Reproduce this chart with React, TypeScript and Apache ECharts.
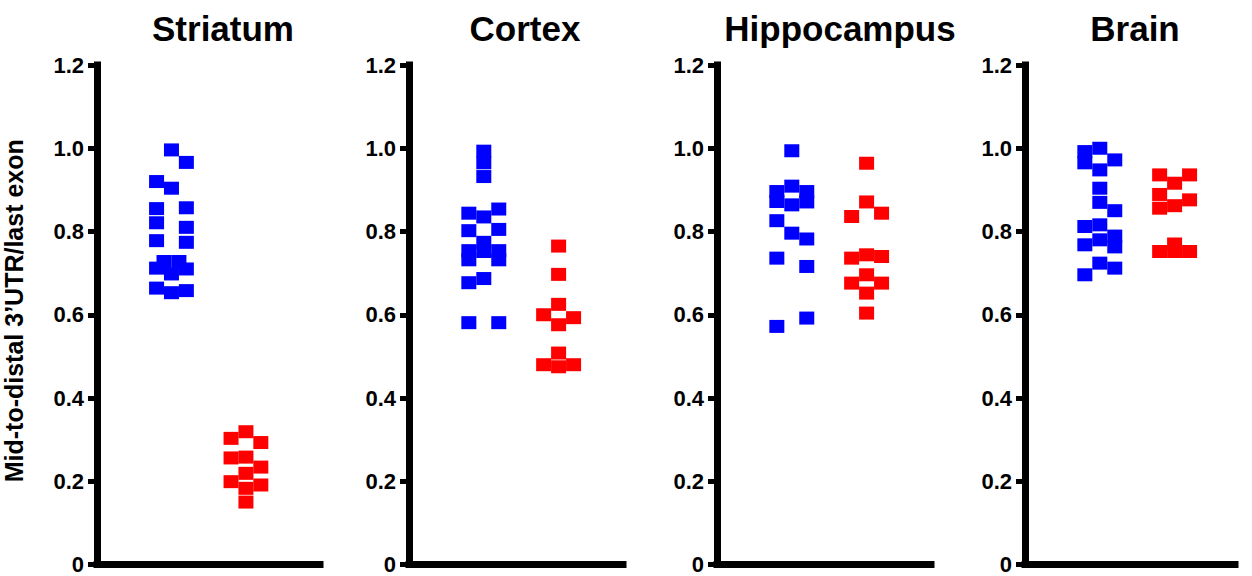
import React, { useEffect, useRef } from "react";
import * as echarts from "echarts";

// ---- data ----
const panelTitles = ["Striatum", "Cortex", "Hippocampus", "Brain"];
const yTicks = [0, 0.2, 0.4, 0.6, 0.8, 1.0, 1.2];
const yLabel = "Mid-to-distal 3’UTR/last exon";

// column index inside each swarm: -1 left, 0 middle, 1 right
const striatumBlueValues = [0.996, 0.966, 0.92, 0.904, 0.855, 0.857, 0.821, 0.81, 0.778, 0.774, 0.728, 0.728, 0.712, 0.71, 0.698, 0.664, 0.653, 0.658];
const striatumBlueCols = [0, 1, -1, 0, -1, 1, -1, 1, -1, 1, -0.5, 0.5, -1, 1, 0, -1, 0, 1];
const striatumRedValues = [0.319, 0.303, 0.293, 0.256, 0.258, 0.234, 0.219, 0.199, 0.191, 0.183, 0.15];
const striatumRedCols = [0, -1, 1, -1, 0, 1, 0, -1, 1, 0, 0];

const cortexBlueValues = [0.993, 0.965, 0.932, 0.844, 0.835, 0.854, 0.802, 0.805, 0.774, 0.752, 0.754, 0.732, 0.754, 0.732, 0.677, 0.687, 0.581, 0.581];
const cortexBlueCols = [0, 0, 0, -1, 0, 1, -1, 1, 0, 0, -1, -1, 1, 1, -1, 0, -1, 1];
const cortexRedValues = [0.765, 0.697, 0.625, 0.6, 0.593, 0.576, 0.508, 0.48, 0.475, 0.48];
const cortexRedCols = [0, 0, 0, -1, 1, 0, 0, -1, 0, 1];

const hippoBlueValues = [0.994, 0.909, 0.896, 0.896, 0.872, 0.864, 0.871, 0.826, 0.796, 0.782, 0.736, 0.716, 0.592, 0.572];
const hippoBlueCols = [0, 0, -1, 1, -1, 0, 1, -1, 0, 1, -1, 1, 1, -1];
const hippoRedValues = [0.964, 0.871, 0.836, 0.844, 0.736, 0.744, 0.74, 0.696, 0.676, 0.676, 0.652, 0.604];
const hippoRedCols = [0, 0, -1, 1, -1, 0, 1, 0, -1, 1, 0, 0];

const brainBlueValues = [1.0, 0.992, 0.972, 0.965, 0.948, 0.904, 0.87, 0.85, 0.816, 0.812, 0.789, 0.78, 0.768, 0.763, 0.724, 0.712, 0.696];
const brainBlueCols = [0, -1, 1, -1, 0, 0, 0, 1, 0, -1, 1, 0, -1, 1, 0, 1, -1];
const brainRedValues = [0.936, 0.936, 0.916, 0.889, 0.876, 0.862, 0.856, 0.77, 0.752, 0.752, 0.752];
const brainRedCols = [-1, 1, 0, -1, 1, 0, -1, 0, -1, 0, 1];

const blueGroups = [
  [striatumBlueCols, striatumBlueValues],
  [cortexBlueCols, cortexBlueValues],
  [hippoBlueCols, hippoBlueValues],
  [brainBlueCols, brainBlueValues],
];
const redGroups = [
  [striatumRedCols, striatumRedValues],
  [cortexRedCols, cortexRedValues],
  [hippoRedCols, hippoRedValues],
  [brainRedCols, brainRedValues],
];

// ---- layout ----
const AXIS_LEFT = [96, 409, 717, 1025];
const AXIS_WIDTH = [224, 214, 214, 210];
const TITLE_CENTER = [218, 520, 835, 1130];
const UNIT_PX = 74.8; // pixels per group slot
const COL_STEP = 0.2; // column spacing in slot units
const GRID_TOP = 65;
const GRID_BOTTOM_Y = 564.5;
const FONT = "'Liberation Sans', Arial, Helvetica, sans-serif";

function toPoints(cols: number[], vals: number[], center: number) {
  return vals.map((v, i) => [center + cols[i] * COL_STEP, v]);
}

export default function App() {
  const ref = useRef<HTMLDivElement>(null);
  useEffect(() => {
    if (!ref.current) return;
    const chart = echarts.init(ref.current, undefined, { renderer: "svg" });
    const grids: any[] = [];
    const xAxes: any[] = [];
    const yAxes: any[] = [];
    const series: any[] = [];
    const titles: any[] = [];
    panelTitles.forEach((t, i) => {
      grids.push({
        left: AXIS_LEFT[i],
        top: GRID_TOP,
        width: AXIS_WIDTH[i],
        height: GRID_BOTTOM_Y - GRID_TOP,
        containLabel: false,
      });
      xAxes.push({
        type: "value",
        gridIndex: i,
        min: 0,
        max: AXIS_WIDTH[i] / UNIT_PX,
        axisLine: { show: true, onZero: false, lineStyle: { color: "#000", width: 7, cap: "square" } },
        axisTick: { show: false },
        axisLabel: { show: false },
        splitLine: { show: false },
      });
      yAxes.push({
        type: "value",
        gridIndex: i,
        min: 0,
        max: 1.2,
        interval: 0.2,
        name: i === 0 ? yLabel : "",
        nameLocation: "middle",
        nameRotate: 90,
        nameGap: 71,
        nameTextStyle: { fontFamily: FONT, fontWeight: "bold", fontSize: 25, color: "#000", padding: [0, 0, 0, 8] },
        axisLine: { show: true, onZero: false, lineStyle: { color: "#000", width: 7, cap: "square" } },
        axisTick: { show: true, inside: false, length: 9, lineStyle: { color: "#000", width: 5 } },
        axisLabel: {
          margin: 13,
          fontFamily: FONT,
          fontWeight: "bold",
          fontSize: 22,
          color: "#000",
          formatter: (v: number) => {
            const hit = yTicks.find((t2) => Math.abs(t2 - v) < 1e-6);
            if (hit === undefined) return "";
            return hit === 0 ? "0" : hit.toFixed(1);
          },
        },
        splitLine: { show: false },
      });
      titles.push({
        text: t,
        left: TITLE_CENTER[i],
        top: 6,
        textAlign: "center",
        textStyle: { fontFamily: FONT, fontWeight: "bold", fontSize: 35, color: "#000" },
      });
      const [bc, bv] = blueGroups[i] as [number[], number[]];
      const [rc, rv] = redGroups[i] as [number[], number[]];
      series.push({
        type: "scatter",
        xAxisIndex: i,
        yAxisIndex: i,
        symbol: "rect",
        symbolSize: [15, 13],
        itemStyle: { color: "#0000FF", opacity: 1 },
        data: toPoints(bc, bv, 1),
      });
      series.push({
        type: "scatter",
        xAxisIndex: i,
        yAxisIndex: i,
        symbol: "rect",
        symbolSize: [15, 13],
        itemStyle: { color: "#FF0000", opacity: 1 },
        data: toPoints(rc, rv, 2),
      });
    });
    chart.setOption({
      animation: false,
      backgroundColor: "#fff",
      title: titles,
      grid: grids,
      xAxis: xAxes,
      yAxis: yAxes,
      series,
    });
    return () => chart.dispose();
  }, []);
  return (
    <div
      ref={ref}
      style={{ position: "fixed", left: 0, top: 0, width: 1252, height: 576, background: "#fff" }}
    />
  );
}
